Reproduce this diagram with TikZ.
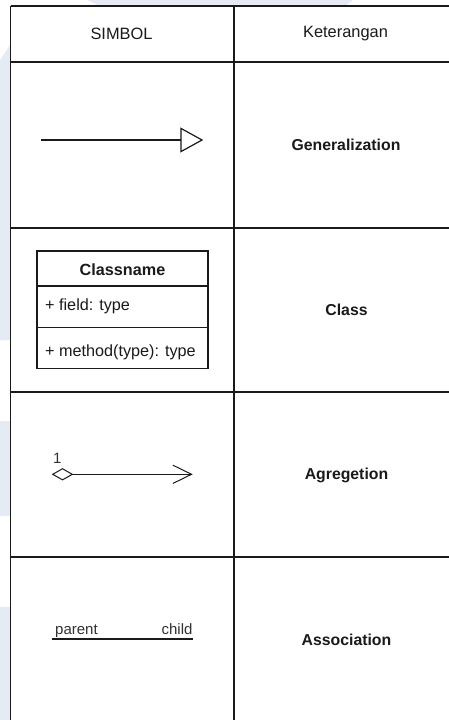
\documentclass[tikz,border=0pt]{standalone}
\usepackage{fontspec}
\setmainfont{Liberation Sans}
\usetikzlibrary{arrows.meta}
\definecolor{wm}{HTML}{E4EBF5}
\definecolor{ink}{HTML}{1A1A1A}
\begin{document}
\begin{tikzpicture}[x=1pt,y=-1pt,
  grid/.style={draw=ink,line width=1.5pt},
  hdr/.style={font=\fontsize{16.4}{19}\selectfont,text=ink,inner sep=0pt},
  lbl/.style={font=\fontsize{15.8}{18}\selectfont\bfseries,text=ink,inner sep=0pt},
  small/.style={font=\fontsize{15}{17}\selectfont,text=ink!90,inner sep=0pt},
  cls/.style={font=\fontsize{16.2}{18}\selectfont,text=ink,inner sep=0pt}]
\useasboundingbox (0,0) rectangle (449,720);
\fill[white] (0,0) rectangle (449,720);
% watermark remnants
\fill[wm] (0,60) -- (10,45) -- (10,340) -- (0,340) -- cycle;
\fill[wm] (0,421) rectangle (10,516);
\fill[wm] (0,607) rectangle (10,720);
\fill[wm] (87,0) -- (353,0) -- (345,6) -- (100,6) -- cycle;
% table grid
\draw[grid] (10.5,6) -- (449,6);
\draw[grid] (10.5,62) -- (449,62);
\draw[grid] (10.5,228) -- (449,228);
\draw[grid] (10.5,392) -- (449,392);
\draw[grid] (10.5,557) -- (449,557);
\draw[grid] (10.5,6) -- (10.5,720);
\draw[grid] (234,6) -- (234,720);
% header
\node[hdr] (hsym) at (121.5,34) {SIMBOL};
\node[hdr] (hket) at (345.5,34) {Keterangan};
% generalization
\coordinate (g1) at (40.7,140);
\coordinate (g2) at (203.3,140);
\draw[line width=1.3pt,draw=ink,-{Triangle[open,length=23pt,width=25pt,line width=1.2pt]}] (g1) -- (g2);
\node[lbl] (lgen) at (346,145) {Generalization};
% class
\draw[draw=ink,line width=1.3pt] (37,251) rectangle (208,368.3);
\draw[draw=ink,line width=1.3pt] (37,286) -- (208,286);
\draw[draw=ink,line width=1.3pt] (37,327.7) -- (208,327.7);
\node[cls,font=\fontsize{16.2}{18}\selectfont\bfseries] (cname) at (122.5,270) {Classname};
\node[cls,anchor=west] (cfield) at (45,306) {+ field: type};
\node[cls,anchor=west] (cmeth) at (45,352.7) {+ method(type): type};
\node[lbl] (lcls) at (346.5,310) {Class};
% aggregation
\coordinate (a1) at (51.7,474.3);
\coordinate (a2) at (192.7,474.3);
\draw[line width=1pt,draw=ink,{Diamond[open,length=21.6pt,width=12.3pt,line width=1pt]}-{Straight Barb[length=18.7pt,width=18.3pt,line width=1pt]}] (a1) -- (a2);
\node[small] (one) at (57.3,458) {1};
\node[lbl] (lagr) at (346.5,475) {Agregetion};
% association
\coordinate (s1) at (51.7,639);
\coordinate (s2) at (192.7,639);
\draw[line width=2pt,draw=ink] (s1) -- (s2);
\node[small,anchor=base west] (par) at (55,634) {parent};
\node[small,anchor=base east] (chi) at (192.7,634) {child};
\node[lbl] (lass) at (346.5,640) {Association};
\end{tikzpicture}
\end{document}
